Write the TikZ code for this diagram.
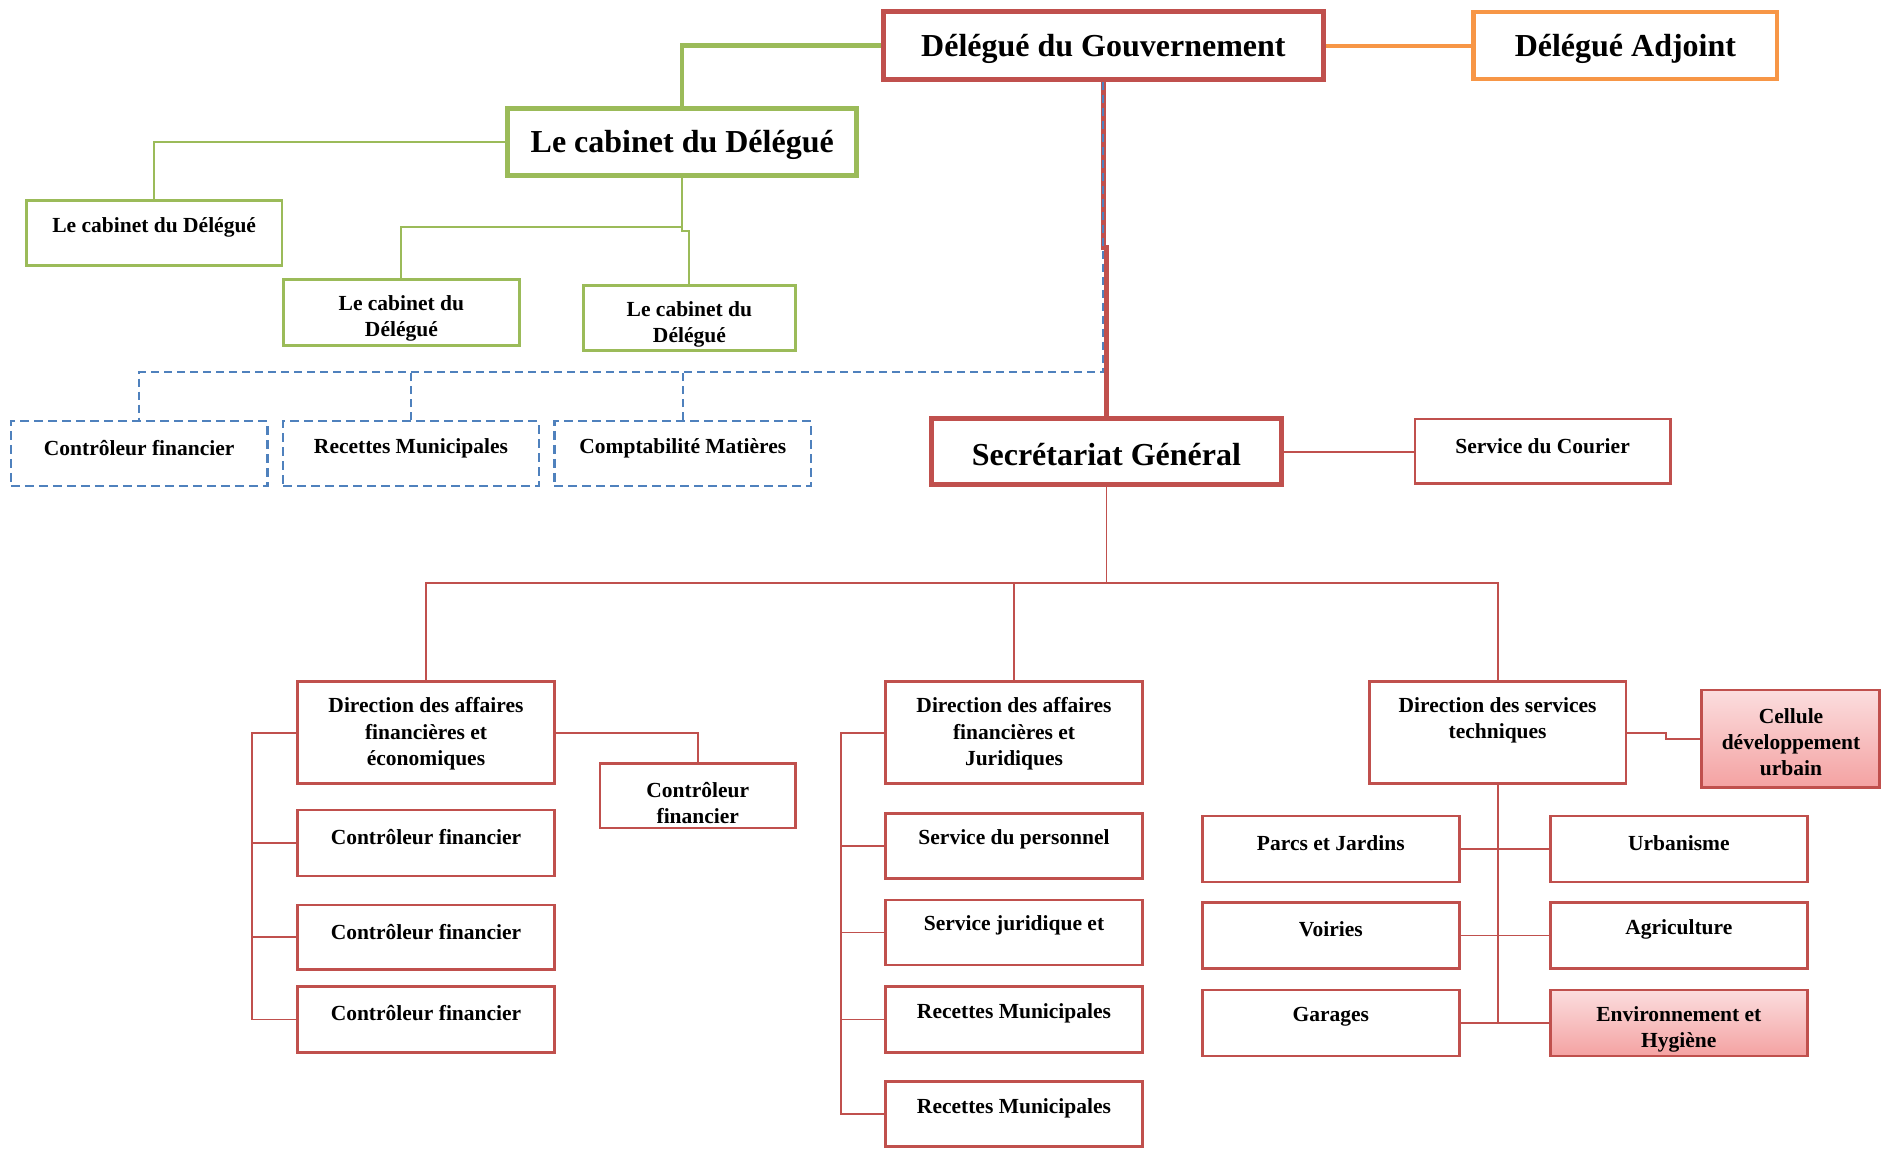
\documentclass[tikz,border=0pt]{standalone}
\usepackage{fontspec}
\setmainfont{Liberation Serif}
\definecolor{ored}{HTML}{C0504D}
\definecolor{ogreen}{HTML}{9BBB59}
\definecolor{oorange}{HTML}{F79646}
\definecolor{oblue}{HTML}{4F81BD}
\definecolor{pinktop}{HTML}{FBDDDE}
\definecolor{pinkbot}{HTML}{F4A2A2}
\newcommand\bx[6]{\node[#6, minimum width={#4-#2}, minimum height={#5-#3}] (#1) at ({(#2+#4)/2},{(#3+#5)/2}) {};}
\begin{document}
\begin{tikzpicture}[x=1pt,y=-1pt,
  box/.style={draw=ored, line width=2.6pt, fill=white, inner sep=0pt},
  pbox/.style={draw=ored, line width=2.6pt, top color=pinktop, bottom color=pinkbot, inner sep=0pt},
  bigred/.style={draw=ored, line width=5pt, fill=white, inner sep=0pt},
  bigorange/.style={draw=oorange, line width=4.5pt, fill=white, inner sep=0pt},
  biggreen/.style={draw=ogreen, line width=5pt, fill=white, inner sep=0pt},
  gbox/.style={draw=ogreen, line width=2.6pt, fill=white, inner sep=0pt},
  dbox/.style={draw=oblue, line width=2.4pt, dash pattern=on 9pt off 5pt, fill=white, inner sep=0pt},
  rthin/.style={draw=ored, line width=1.8pt},
  rthick/.style={draw=ored, line width=5pt},
  gthin/.style={draw=ogreen, line width=2pt},
  gthick/.style={draw=ogreen, line width=4.5pt},
  othick/.style={draw=oorange, line width=4pt},
  bdash/.style={draw=oblue, line width=2pt, dash pattern=on 8pt off 5pt},
  txt/.style={font=\fontsize{21.5}{26.4}\selectfont\bfseries, align=center, inner sep=0pt, yshift=-3pt},
  bigtxt/.style={font=\fontsize{32}{38}\selectfont\bfseries, inner sep=0pt, yshift=-4.5pt}]
\useasboundingbox (0,0) rectangle (1881,1148);

% ---------- boxes ----------
\bx{dg}{883.2}{12}{1323.6}{79.2}{bigred}
\bx{da}{1473.6}{12}{1777.2}{79.2}{bigorange}
\bx{cab}{507.6}{108}{856.8}{175.2}{biggreen}
\bx{cb1}{26.4}{200.4}{282}{265.2}{gbox}
\bx{cb2}{283.2}{279.6}{519.6}{345.6}{gbox}
\bx{cb3}{583.2}{285.6}{795.6}{350.4}{gbox}
\bx{d1}{10.8}{421.2}{267.6}{486}{dbox}
\bx{d2}{283.2}{421.2}{538.8}{486}{dbox}
\bx{d3}{554.4}{421.2}{811.2}{486}{dbox}
\bx{sg}{931.2}{418.8}{1281.6}{484.8}{bigred}
\bx{cour}{1414.8}{418.8}{1670.4}{483.6}{box}
\bx{dafe}{297.6}{681.6}{554.4}{783.6}{box}
\bx{a1}{297.6}{810}{554.4}{876}{box}
\bx{a2}{297.6}{904.8}{554.4}{969.6}{box}
\bx{a3}{297.6}{986.4}{554.4}{1052.4}{box}
\bx{cf}{600}{763.2}{795.6}{828}{box}
\bx{dafj}{885.6}{681.6}{1142.4}{783.6}{box}
\bx{b1}{885.6}{813.6}{1142.4}{878.4}{box}
\bx{b2}{885.6}{900}{1142.4}{964.8}{box}
\bx{b3}{885.6}{986.4}{1142.4}{1052.4}{box}
\bx{b4}{885.6}{1081.2}{1142.4}{1146.5}{box}
\bx{dst}{1369.2}{681.6}{1626}{783.6}{box}
\bx{cel}{1701.6}{690}{1879.5}{787.2}{pbox}
\bx{c1}{1202.4}{816}{1459.2}{882}{box}
\bx{c2}{1202.4}{902.4}{1459.2}{968.4}{box}
\bx{c3}{1202.4}{990}{1459.2}{1056}{box}
\bx{e1}{1550.4}{816}{1807.2}{882}{box}
\bx{e2}{1550.4}{902.4}{1807.2}{968.4}{box}
\bx{e3}{1550.4}{990}{1807.2}{1056}{pbox}

% ---------- connectors ----------
\coordinate (gj) at (682.2,226.8);
\coordinate (bj) at (1103.4,372);
\coordinate (rj) at (1103.4,247.2);
\coordinate (sj) at (1106.4,583.2);
\coordinate (r1) at (252,0);
\coordinate (r2) at (841.2,0);

\draw[gthick] (dg.west) -| (cab.north);
\draw[othick] (dg.east) -- (da.west);
\draw[gthin] (cab.west) -| (cb1.north);
\draw[gthin] (cab.south) -- (gj) -| (cb2.north);
\draw[gthin] (gj) -- (682.2,231) -| (cb3.north);
\draw[rthick] (dg.south) -- (rj) -- (rj -| sg.north) -- (sg.north);
\draw[bdash] (dg.south) -- (bj) -| (d1.north);
\draw[bdash] (d2.north) -- (d2.north |- bj);
\draw[bdash] (d3.north) -- (d3.north |- bj);
\draw[rthin] (sg.east) -- (sg.east -| cour.west);
\draw[rthin] (sg.south) -- (sj);
\draw[rthin] (dafe.north) |- (dst.north |- sj) -- (dst.north);
\draw[rthin] (dafj.north) -- (dafj.north |- sj);
\draw[rthin] (dafe.west) -- (dafe.west -| r1) |- (a3.west);
\draw[rthin] (a1.west) -- (a1.west -| r1);
\draw[rthin] (a2.west) -- (a2.west -| r1);
\draw[rthin] (dafe.east) -| (cf.north);
\draw[rthin] (dafj.west) -- (dafj.west -| r2) |- (b4.west);
\draw[rthin] (b1.west) -- (b1.west -| r2);
\draw[rthin] (b2.west) -- (b2.west -| r2);
\draw[rthin] (b3.west) -- (b3.west -| r2);
\draw[rthin] (dst.east) -- ++(38.4,0) |- (cel.west);
\draw[rthin] (dst.south) -- (dst.south |- c3.east);
\draw[rthin] (c1.east) -- (e1.west);
\draw[rthin] (c2.east) -- (e2.west);
\draw[rthin] (c3.east) -- (e3.west);

% redraw boxes over connector ends
\bx{dg}{883.2}{12}{1323.6}{79.2}{bigred}
\bx{sg}{931.2}{418.8}{1281.6}{484.8}{bigred}
\bx{cab}{507.6}{108}{856.8}{175.2}{biggreen}
\bx{da}{1473.6}{12}{1777.2}{79.2}{bigorange}

% ---------- texts ----------
\node[bigtxt] (tdg) at (1103.4,44.4) {Délégué du Gouvernement};
\node[bigtxt] (tda) at (1625.4,44.4) {Délégué Adjoint};
\node[bigtxt] (tcab) at (682.2,140.4) {Le cabinet du Délégué};
\node[bigtxt] (tsg) at (1106.4,450) {Secrétariat Général};
\node[txt] (tcb1) at (154.2,224.4) {Le cabinet du Délégué};
\node[txt] (tcb2) at (401.4,315.6) {Le cabinet du\\Délégué};
\node[txt] (tcb3) at (689.4,321.6) {Le cabinet du\\Délégué};
\node[txt] (td1) at (139.2,445.2) {Contrôleur financier};
\node[txt] (td2) at (411,445.2) {Recettes Municipales};
\node[txt] (td3) at (682.8,445.2) {Comptabilité Matières};
\node[txt] (tcour) at (1542.6,442.8) {Service du Courier};
\node[txt] (tdafe) at (426,730.8) {Direction des affaires\\financières et\\économiques};
\node[txt] (ta1) at (426,834) {Contrôleur financier};
\node[txt] (ta2) at (426,928.8) {Contrôleur financier};
\node[txt] (ta3) at (426,1010.4) {Contrôleur financier};
\node[txt] (tcf) at (697.8,799.8) {Contrôleur\\financier};
\node[txt] (tdafj) at (1014,730.8) {Direction des affaires\\financières et\\Juridiques};
\node[txt] (tb1) at (1014,836.4) {Service du personnel};
\node[txt] (tb2) at (1014,922.8) {Service juridique et};
\node[txt] (tb3) at (1014,1010.4) {Recettes Municipales};
\node[txt] (tb4) at (1014,1105.2) {Recettes Municipales};
\node[txt] (tdst) at (1497.6,717.6) {Direction des services\\techniques};
\node[txt] (tcel) at (1791,739.2) {Cellule\\développement\\urbain};
\node[txt] (tc1) at (1330.8,840) {Parcs et Jardins};
\node[txt] (tc2) at (1330.8,926.4) {Voiries};
\node[txt] (tc3) at (1330.8,1014) {Garages};
\node[txt] (te1) at (1678.8,840) {Urbanisme};
\node[txt] (te2) at (1678.8,926.4) {Agriculture};
\node[txt] (te3) at (1678.8,1026.6) {Environnement et\\Hygiène};
\end{tikzpicture}
\end{document}
